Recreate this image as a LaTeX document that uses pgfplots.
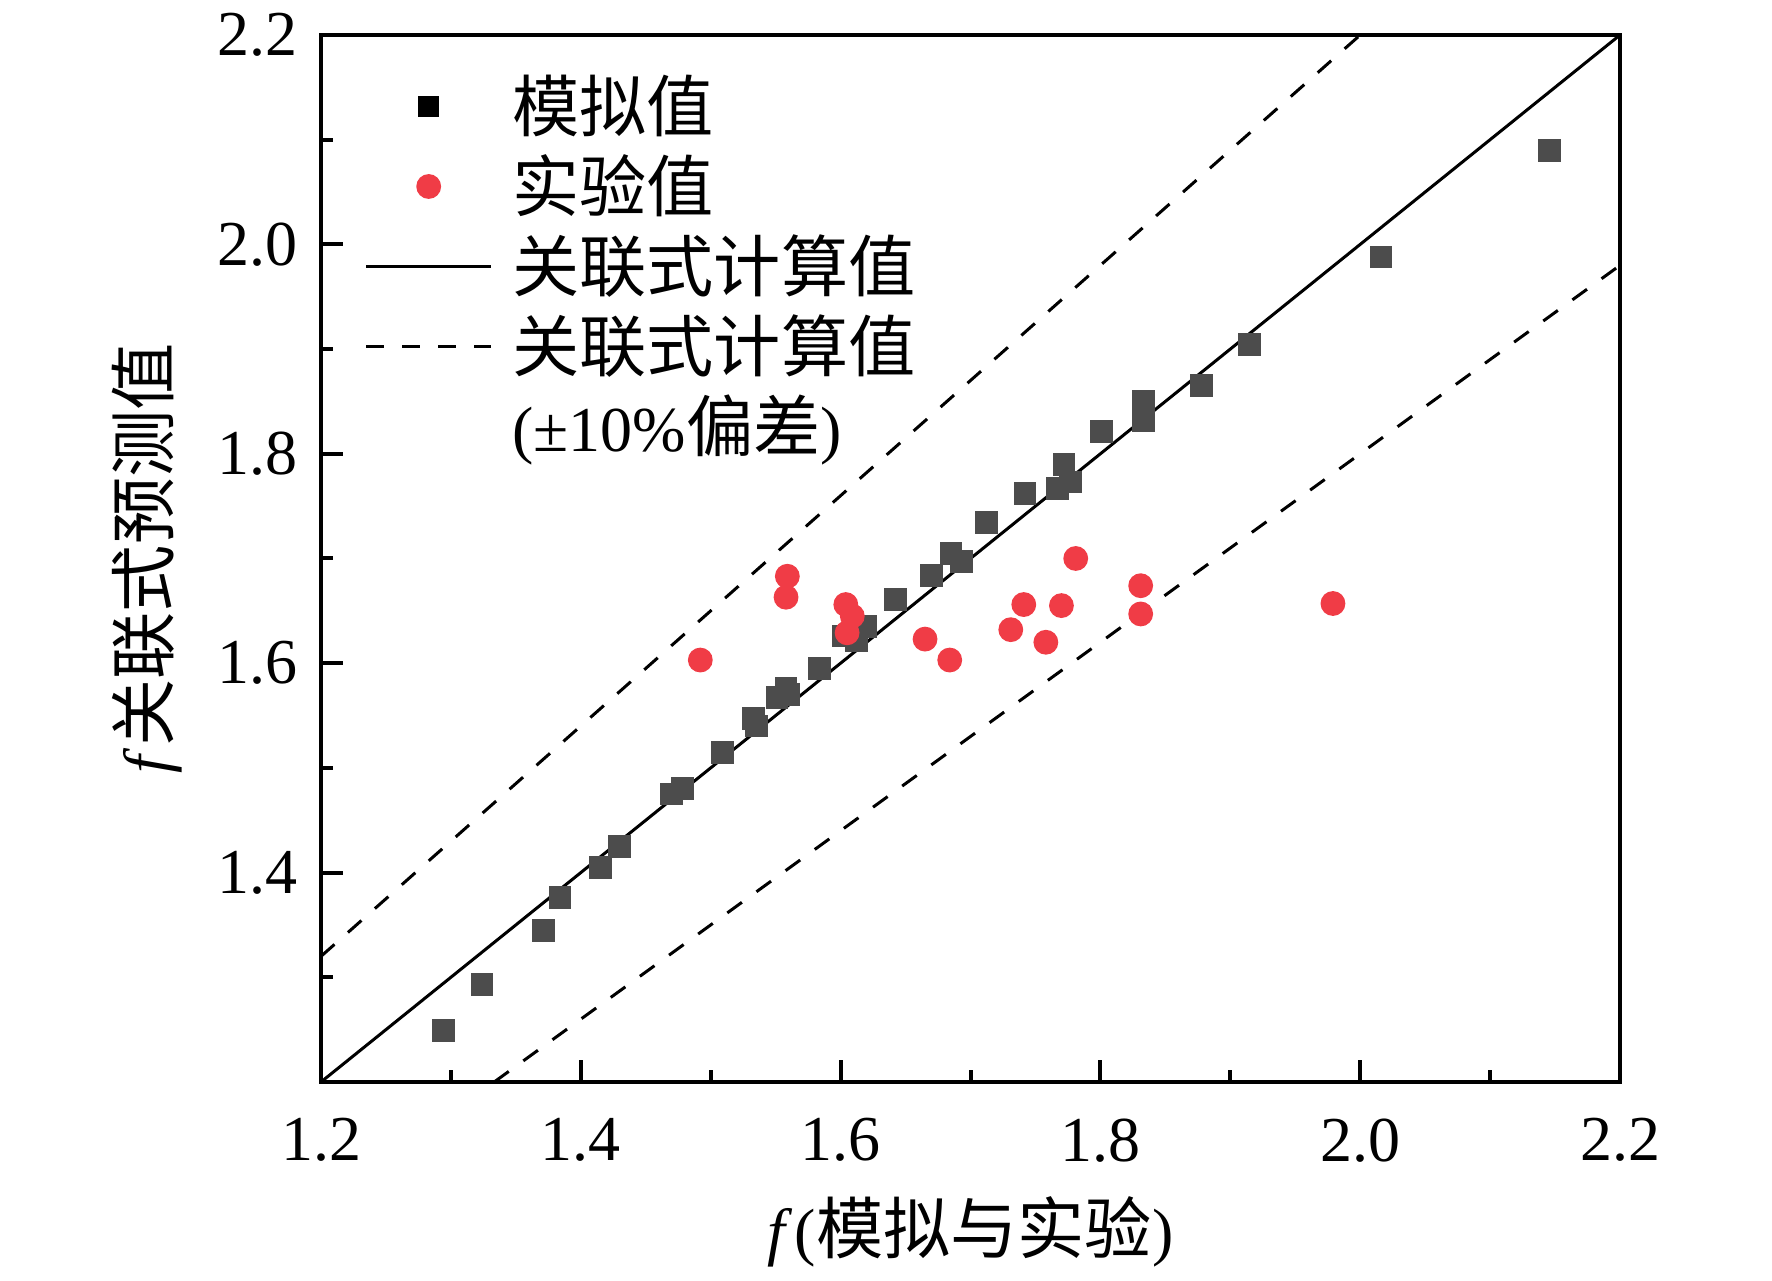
\documentclass[border=0pt]{standalone}
\usepackage{fontspec}
\setmainfont{Liberation Serif}
\newfontfamily\cjk{Noto Sans CJK SC}[Scale=1.05]
\usepackage{pgfplots}
\pgfplotsset{compat=1.18}
\definecolor{sq}{gray}{0.3}
\definecolor{rd}{RGB}{240,60,70}
\newcommand\fs{\fontsize{16}{19}\selectfont}
\begin{document}
\begin{tikzpicture}
\begin{axis}[
  width=324.75pt, height=261.75pt, scale only axis,
  xmin=1.2, xmax=2.2, ymin=1.2, ymax=2.2,
  xtick={1.2,1.4,1.6,1.8,2.0,2.2},
  ytick={1.4,1.6,1.8,2.0,2.2},
  minor xtick={1.3,1.5,1.7,1.9,2.1},
  minor ytick={1.3,1.5,1.7,1.9,2.1},
  tick pos=left, tick align=inside,
  major tick length=5.5pt, minor tick length=3pt,
  every tick/.style={black, line width=1pt},
  axis line style={line width=1pt},
  /pgf/number format/assume math mode=true,
  xticklabel style={/pgf/number format/.cd, fixed, fixed zerofill, precision=1, /tikz/.cd, yshift=-5.6pt},
  yticklabel style={/pgf/number format/.cd, fixed, fixed zerofill, precision=1, /tikz/.cd, xshift=-2.3pt},
  tick label style={font=\fs},
  label style={font=\fs},
  xlabel={\textit{f}\kern0.5pt({\cjk 模拟与实验})},
  ylabel={\textit{f}\kern0.5pt{\cjk 关联式预测值}},
  xlabel style={at={(axis description cs:0.5,-0.143)}, anchor=center},
  ylabel style={at={(axis description cs:-0.134,0.5)}, anchor=center},
  legend image code/.code={\draw[mark repeat=2,mark phase=2,#1] plot coordinates {(0cm,0cm) (0.55cm,0cm) (1.1cm,0cm)};},
  legend cell align=left,
  legend style={draw=none, fill=none, font=\fs, at={(axis description cs:0,1)}, anchor=north west,
    xshift=7.7pt, yshift=-6.4pt, row sep=1.3pt, nodes={inner sep=1.5pt},
    /tikz/every odd column/.append style={column sep=3.4pt}},
]
\coordinate (ll) at (rel axis cs:0,0);
\addplot[only marks, mark=square*, mark size=2.65pt, color=sq, forget plot] coordinates {
(1.294,1.249) (1.324,1.293) (1.371,1.345) (1.384,1.376) (1.415,1.405) (1.430,1.425)
(1.470,1.475) (1.478,1.480) (1.509,1.515) (1.533,1.547) (1.535,1.540) (1.551,1.567)
(1.558,1.576) (1.560,1.570) (1.584,1.595) (1.602,1.626) (1.612,1.622) (1.619,1.635)
(1.642,1.661) (1.670,1.684) (1.685,1.705) (1.693,1.697) (1.712,1.734) (1.742,1.762)
(1.767,1.767) (1.772,1.790) (1.777,1.773) (1.801,1.821) (1.833,1.850) (1.833,1.832)
(1.878,1.865) (1.915,1.904) (2.016,1.988) (2.146,2.090)};
\addplot[only marks, mark=*, mark size=2.9pt, color=rd, forget plot] coordinates {
(1.492,1.603) (1.559,1.683) (1.558,1.663) (1.604,1.656) (1.609,1.645) (1.605,1.629)
(1.665,1.623) (1.684,1.603) (1.731,1.632) (1.741,1.656) (1.758,1.620) (1.770,1.655)
(1.781,1.700) (1.831,1.674) (1.831,1.647) (1.979,1.657)};
\addplot[black, line width=0.75pt, forget plot] coordinates {(1.2,1.2) (2.2,2.2)};
\addplot[black, line width=0.75pt, dash pattern=on 4.5pt off 4.5pt, forget plot] coordinates {(1.2,1.32) (2.0,2.2)};
\addplot[black, line width=0.75pt, dash pattern=on 4.5pt off 4.5pt, forget plot] coordinates {(1.33333,1.2) (2.2,1.98)};
\addlegendimage{only marks, mark=square*, mark size=2.4pt, black}
\addlegendentry{\cjk 模拟值}
\addlegendimage{only marks, mark=*, mark size=2.9pt, rd}
\addlegendentry{\cjk 实验值}
\addlegendimage{black, line width=0.75pt}
\addlegendentry{\cjk 关联式计算值}
\addlegendimage{black, line width=0.75pt, dash pattern=on 4.5pt off 4.5pt}
\addlegendentry{\cjk 关联式计算值}
\addlegendimage{empty legend}
\addlegendentry{(±10\%{\cjk 偏差})}
\end{axis}
\path[use as bounding box] ([xshift=-80.25pt, yshift=-47.25pt]ll) rectangle ++(443pt,317.5pt);
\end{tikzpicture}
\end{document}
